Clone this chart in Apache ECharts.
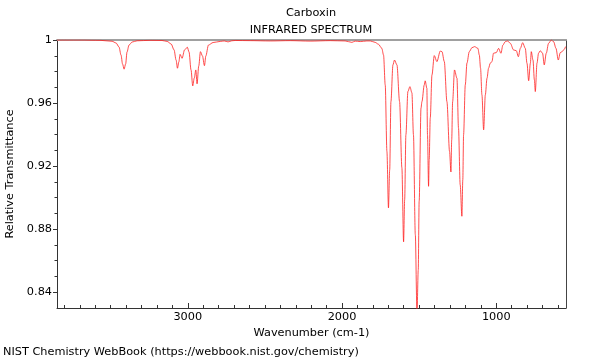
<!DOCTYPE html>
<html>
<head>
<meta charset="utf-8">
<script src="https://cdn.jsdelivr.net/npm/echarts@6/dist/echarts.min.js"></script>
<style>html,body{margin:0;padding:0;background:#fff;}#c{width:600px;height:360px;}</style>
</head>
<body>
<div id="c"></div>
<script>
var chartTitle = 'Carboxin';
var chartSubtitle = 'INFRARED SPECTRUM';
var xName = 'Wavenumber (cm-1)';
var yName = 'Relative Transmittance';
var footer = 'NIST Chemistry WebBook (https://webbook.nist.gov/chemistry)';

var wavenumbers = [3848,3699,3569,3491,3465,3446,3433,3423,3413,3403,3394,3381,3361,3329,3245,3167,3134,3108,3089,3076,3067,3058,3050,3037,3021,3003,2992,2979,2968,2958,2948,2940,2929,2918,2905,2892,2883,2866,2836,2790,2764,2739,2715,2693,2596,2466,2336,2207,2077,1980,1936,1915,1882,1839,1817,1785,1764,1742,1731,1720,1709,1699,1691,1683,1670,1660,1644,1627,1612,1601,1594,1586,1573,1560,1547,1537,1525,1514,1506,1500,1488,1482,1467,1461,1450,1446,1439,1435,1428,1417,1402,1385,1363,1352,1337,1320,1303,1294,1289,1283,1271,1255,1245,1234,1223,1217,1212,1201,1190,1175,1158,1141,1119,1110,1102,1093,1082,1071,1060,1050,1039,1028,1018,1000,985,970,957,942,927,909,888,870,857,844,829,812,801,790,779,773,762,753,747,736,726,715,700,689,676,661,643,628,613,598,585,574,559,551];
var transmittance = [1.0000,1.0000,0.9998,0.9992,0.9981,0.9956,0.9905,0.9848,0.9815,0.9848,0.9924,0.9968,0.9987,0.9995,0.9998,0.9997,0.9991,0.9975,0.9937,0.9873,0.9821,0.9861,0.9909,0.9884,0.9937,0.9954,0.9924,0.9810,0.9709,0.9759,0.9810,0.9722,0.9835,0.9926,0.9899,0.9837,0.9899,0.9968,0.9984,0.9991,0.9994,0.9988,0.9995,0.9997,0.9996,0.9994,0.9996,0.9993,0.9996,0.9994,0.9985,0.9993,0.9990,0.9994,0.9994,0.9985,0.9973,0.9947,0.9905,0.9715,0.9293,0.8935,0.9177,0.9609,0.9842,0.9873,0.9842,0.9609,0.9190,0.8720,0.8987,0.9399,0.9673,0.9704,0.9665,0.9399,0.8766,0.8260,0.8540,0.8977,0.9568,0.9609,0.9715,0.9741,0.9694,0.9399,0.9072,0.9241,0.9506,0.9778,0.9901,0.9863,0.9930,0.9926,0.9863,0.9609,0.9293,0.9163,0.9367,0.9609,0.9810,0.9758,0.9443,0.9082,0.8882,0.9114,0.9399,0.9715,0.9854,0.9926,0.9951,0.9958,0.9947,0.9905,0.9821,0.9652,0.9430,0.9652,0.9758,0.9821,0.9853,0.9863,0.9916,0.9920,0.9947,0.9916,0.9968,0.9989,0.9994,0.9979,0.9937,0.9932,0.9894,0.9947,0.9983,0.9947,0.9853,0.9742,0.9853,0.9926,0.9873,0.9747,0.9673,0.9853,0.9916,0.9932,0.9916,0.9842,0.9916,0.9979,1.0000,0.9989,0.9947,0.9873,0.9920,0.9926,0.9941,0.9958];

var xMajorTicks = [1000, 2000, 3000];
var xMinorTicks = [600,700,800,900,1100,1200,1300,1400,1500,1600,1700,1800,1900,2100,2200,2300,2400,2500,2600,2700,2800,2900,3100,3200,3300,3400,3500,3600,3700,3800];
var yMajorTicks = [0.84, 0.88, 0.92, 0.96, 1];
var yMinorTicks = [0.85,0.86,0.87,0.89,0.90,0.91,0.93,0.94,0.95,0.97,0.98,0.99];

var X_MIN = 548, X_MAX = 3848, Y_MIN = 0.83, Y_MAX = 1.0;
var FONT = 'DejaVu Sans';
var FS = 11.3;

var points = wavenumbers.map(function (w, i) { return [w, transmittance[i]]; });

var chart = echarts.init(document.getElementById('c'), null, {renderer: 'canvas'});
chart.setOption({
  animation: false,
  backgroundColor: '#fff',
  textStyle: {fontFamily: FONT},
  grid: {left: 57, right: 34, top: 40, bottom: 52, containLabel: false, outerBoundsMode: 'none'},
  graphic: [
    {type: 'text', x: 311, y: 13, style: {text: chartTitle, fill: '#000', font: FS + 'px ' + FONT, align: 'center', verticalAlign: 'middle'}},
    {type: 'text', x: 311, y: 30, style: {text: chartSubtitle, fill: '#000', font: FS + 'px ' + FONT, align: 'center', verticalAlign: 'middle'}},
    {type: 'text', x: 3, y: 352, style: {text: footer, fill: '#000', font: FS + 'px ' + FONT, align: 'left', verticalAlign: 'middle'}}
  ],
  xAxis: [
    {
      type: 'value', inverse: true, min: X_MIN, max: X_MAX, position: 'bottom',
      name: xName, nameLocation: 'middle', nameGap: 16,
      nameTextStyle: {color: '#000', fontSize: FS, fontFamily: FONT},
      axisLine: {show: true, lineStyle: {color: '#333', width: 1}},
      axisTick: {show: true, inside: true, length: 5, customValues: xMajorTicks, lineStyle: {color: '#333'}},
      axisLabel: {show: true, customValues: xMajorTicks, margin: 4, color: '#000', fontSize: FS, fontFamily: FONT,
        formatter: function (v) { return String(v); }},
      splitLine: {show: false}
    },
    {
      type: 'value', inverse: true, min: X_MIN, max: X_MAX, position: 'bottom',
      axisLine: {show: false},
      axisTick: {show: true, inside: true, length: 3, customValues: xMinorTicks, lineStyle: {color: '#333'}},
      axisLabel: {show: false},
      splitLine: {show: false}
    },
    {
      type: 'value', inverse: true, min: X_MIN, max: X_MAX, position: 'top',
      axisLine: {show: true, lineStyle: {color: '#a0a0a0', width: 2}},
      axisTick: {show: false}, axisLabel: {show: false}, splitLine: {show: false}
    }
  ],
  yAxis: [
    {
      type: 'value', min: Y_MIN, max: Y_MAX, position: 'left',
      name: yName, nameLocation: 'middle', nameGap: 38,
      nameTextStyle: {color: '#000', fontSize: FS, fontFamily: FONT},
      axisLine: {show: true, lineStyle: {color: '#333', width: 1}},
      axisTick: {show: true, inside: false, length: 4, customValues: yMajorTicks, lineStyle: {color: '#333'}},
      axisLabel: {show: true, customValues: yMajorTicks, margin: 5, color: '#000', fontSize: FS, fontFamily: FONT,
        formatter: function (v) { return String(v); }},
      splitLine: {show: false}
    },
    {
      type: 'value', min: Y_MIN, max: Y_MAX, position: 'left',
      axisLine: {show: false},
      axisTick: {show: true, inside: false, length: 2.5, customValues: yMinorTicks, lineStyle: {color: '#333'}},
      axisLabel: {show: false}, splitLine: {show: false}
    },
    {
      type: 'value', min: Y_MIN, max: Y_MAX, position: 'right',
      axisLine: {show: true, lineStyle: {color: '#444', width: 1}},
      axisTick: {show: false}, axisLabel: {show: false}, splitLine: {show: false}
    }
  ],
  series: [{
    type: 'line', xAxisIndex: 0, yAxisIndex: 0, data: points,
    showSymbol: false, symbol: 'none', clip: true,
    smooth: 0.3, smoothMonotone: 'x',
    lineStyle: {color: '#ff2020', width: 0.8}
  }]
});
</script>
</body>
</html>
